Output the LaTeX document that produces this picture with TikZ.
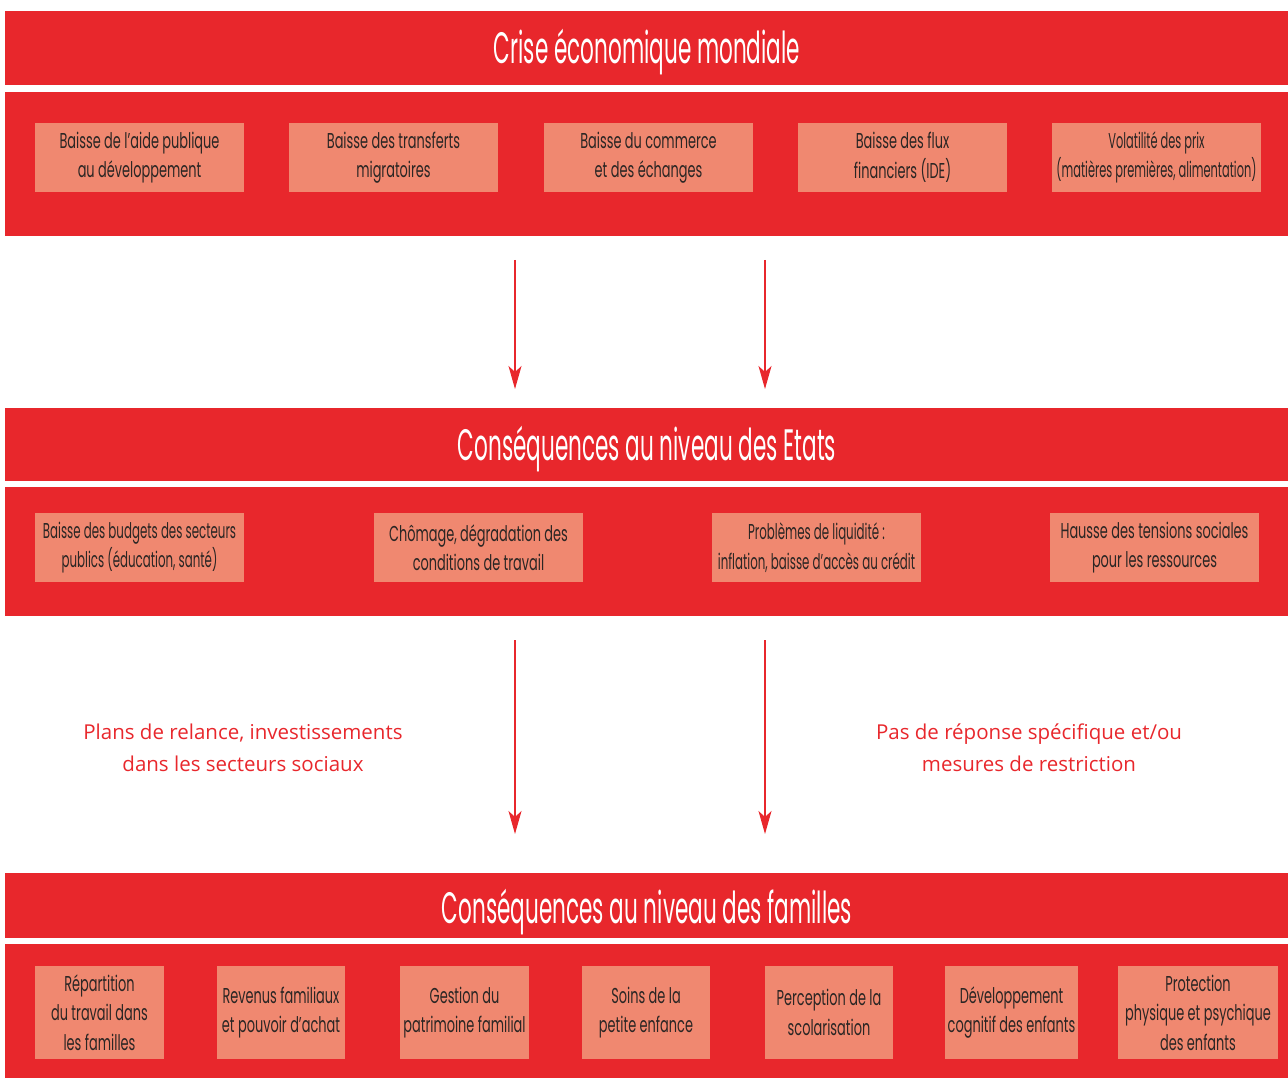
\documentclass[tikz,border=0pt]{standalone}
\usepackage{fontspec}
\usetikzlibrary{arrows.meta}
\newfontfamily\condfont[FakeStretch=0.6]{Poppins}
\newfontfamily\tightfont[FakeStretch=0.55]{Poppins}
\newfontfamily\tighterfont[FakeStretch=0.53]{Poppins}
\newfontfamily\headfont[FakeStretch=0.49]{Poppins}
\newfontfamily\labfont{Open Sans}
\definecolor{bandred}{HTML}{E8272C}
\definecolor{boxsalmon}{HTML}{F08870}
\definecolor{boxtext}{HTML}{2B2624}
\tikzset{
  headtext/.style={text=white, anchor=base, inner sep=0pt, font=\headfont\fontsize{44}{46}\selectfont},
  itembox/.style={fill=boxsalmon, draw=none, inner sep=0pt, align=center,
    text=boxtext, font=\condfont\fontsize{21.5}{29.5}\selectfont},
  tightbox/.style={itembox, font=\tightfont\fontsize{21.5}{29.5}\selectfont},
  tighterbox/.style={itembox, font=\tighterfont\fontsize{21.5}{29.5}\selectfont},
  flow/.style={draw=bandred, line width=1.1pt, -{Stealth[length=23pt,width=13pt,inset=6pt]}},
  sidelabel/.style={text=bandred, align=center, font=\labfont\fontsize{20.5}{32}\selectfont}
}
\begin{document}
\begin{tikzpicture}[x=1pt,y=-1pt]
\useasboundingbox (0,0) rectangle (1288,1083);
% ---- Band 1
\fill[bandred] (5,11) rectangle (1288,85);
\node[headtext] (h1) at (647,64) {Crise économique mondiale};
\fill[bandred] (5,92) rectangle (1288,236);
\node[itembox, minimum width=209pt, minimum height=69pt] (b11) at (139.5,157.5) {Baisse de l’aide publique\\au développement};
\node[itembox, minimum width=209pt, minimum height=69pt] (b12) at (393.5,157.5) {Baisse des transferts\\migratoires};
\node[itembox, minimum width=209pt, minimum height=69pt] (b13) at (648.5,157.5) {Baisse du commerce\\et des échanges};
\node[itembox, minimum width=209pt, minimum height=69pt] (b14) at (902.5,157.5) {Baisse des flux\\financiers (IDE)};
\node[tighterbox, minimum width=209pt, minimum height=69pt] (b15) at (1156.5,157.5) {Volatilité des prix\\(matières premières, alimentation)};
% ---- arrows 1
\coordinate (a1s) at (515,260); \coordinate (a1e) at (515,389);
\coordinate (a2s) at (765,260); \coordinate (a2e) at (765,389);
\draw[flow] (a1s) -- (a1e);
\draw[flow] (a2s) -- (a2e);
% ---- Band 2
\fill[bandred] (5,408) rectangle (1288,481);
\node[headtext] (h2) at (647,460) {Conséquences au niveau des Etats};
\fill[bandred] (5,487) rectangle (1288,616);
\node[tightbox, minimum width=209pt, minimum height=69pt] (b21) at (139.5,547.5) {Baisse des budgets des secteurs\\publics (éducation, santé)};
\node[itembox, minimum width=209pt, minimum height=69pt] (b22) at (478.5,547.5) {Chômage, dégradation des\\conditions de travail};
\node[tightbox, minimum width=209pt, minimum height=69pt] (b23) at (816.5,547.5) {Problèmes de liquidité :\\inflation, baisse d’accès au crédit};
\node[itembox, minimum width=209pt, minimum height=69pt] (b24) at (1154.5,547.5) {Hausse des tensions sociales\\pour les ressources};
% ---- arrows 2
\coordinate (a3s) at (515,640); \coordinate (a3e) at (515,834);
\coordinate (a4s) at (765,640); \coordinate (a4e) at (765,834);
\draw[flow] (a3s) -- (a3e);
\draw[flow] (a4s) -- (a4e);
\node[sidelabel] (l1) at (243,748) {Plans de relance, investissements\\dans les secteurs sociaux};
\node[sidelabel] (l2) at (1029,748) {Pas de réponse spécifique et/ou\\mesures de restriction};
% ---- Band 3
\fill[bandred] (5,873) rectangle (1288,938);
\node[headtext] (h3) at (647,923) {Conséquences au niveau des familles};
\fill[bandred] (5,944) rectangle (1288,1078);
\node[itembox, minimum width=129pt, minimum height=93pt] (b31) at (99.5,1012.5) {Répartition\\du travail dans\\les familles};
\node[itembox, minimum width=128pt, minimum height=93pt] (b32) at (281,1012.5) {Revenus familiaux\\et pouvoir d’achat};
\node[itembox, minimum width=129pt, minimum height=93pt] (b33) at (464.5,1012.5) {Gestion du\\patrimoine familial};
\node[itembox, minimum width=128pt, minimum height=93pt] (b34) at (646,1012.5) {Soins de la\\petite enfance};
\node[itembox, minimum width=128pt, minimum height=93pt] (b35) at (829,1012.5) {Perception de la\\scolarisation};
\node[itembox, minimum width=133pt, minimum height=93pt] (b36) at (1011.5,1012.5) {Développement\\cognitif des enfants};
\node[itembox, minimum width=160pt, minimum height=93pt] (b37) at (1198,1012.5) {Protection\\physique et psychique\\des enfants};
\end{tikzpicture}
\end{document}
